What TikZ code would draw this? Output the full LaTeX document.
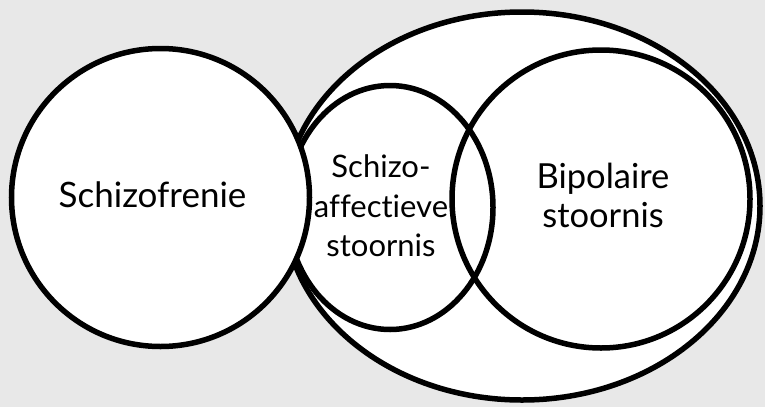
\documentclass[tikz,border=0pt]{standalone}
\usepackage{fontspec}
\setmainfont{Lato}[Ligatures=NoCommon]
\usetikzlibrary{shapes.geometric}
\definecolor{achtergrond}{RGB}{232,232,232}
\tikzset{
    verz/.style={ellipse, draw, line width=5.5pt, inner sep=0pt},
    label tekst/.style={align=center, inner sep=0pt, font=\fontsize{31}{39.5}\selectfont}
}
\begin{document}
\begin{tikzpicture}[x=1pt, y=-1pt]
        \fill[achtergrond] (0,0) rectangle (765,407);
        \useasboundingbox (0,0) rectangle (765,407);
        \node[verz, fill=white, minimum width=476pt, minimum height=388pt] (geheel) at (522,206) {};
        \node[verz, minimum width=206pt, minimum height=244pt] (schizoaff) at (390,207.5) {};
        \node[verz, minimum width=298pt, minimum height=298pt] (bipolair) at (601,199) {};
        \node[verz, fill=white, minimum width=298pt, minimum height=298pt] (schizo) at (160.5,197.5) {};
        \node[label tekst, font=\fontsize{35}{39.5}\selectfont] (schizotekst) at (152.5,195) {Schizofrenie};
        \node[label tekst] (schizoafftekst) at (381,206) {Schizo-\\affectieve\\stoornis};
        \node[label tekst, font=\fontsize{34.5}{39}\selectfont] (bipolairtekst) at (603,195) {Bipolaire\\stoornis};
    \end{tikzpicture}
\end{document}
